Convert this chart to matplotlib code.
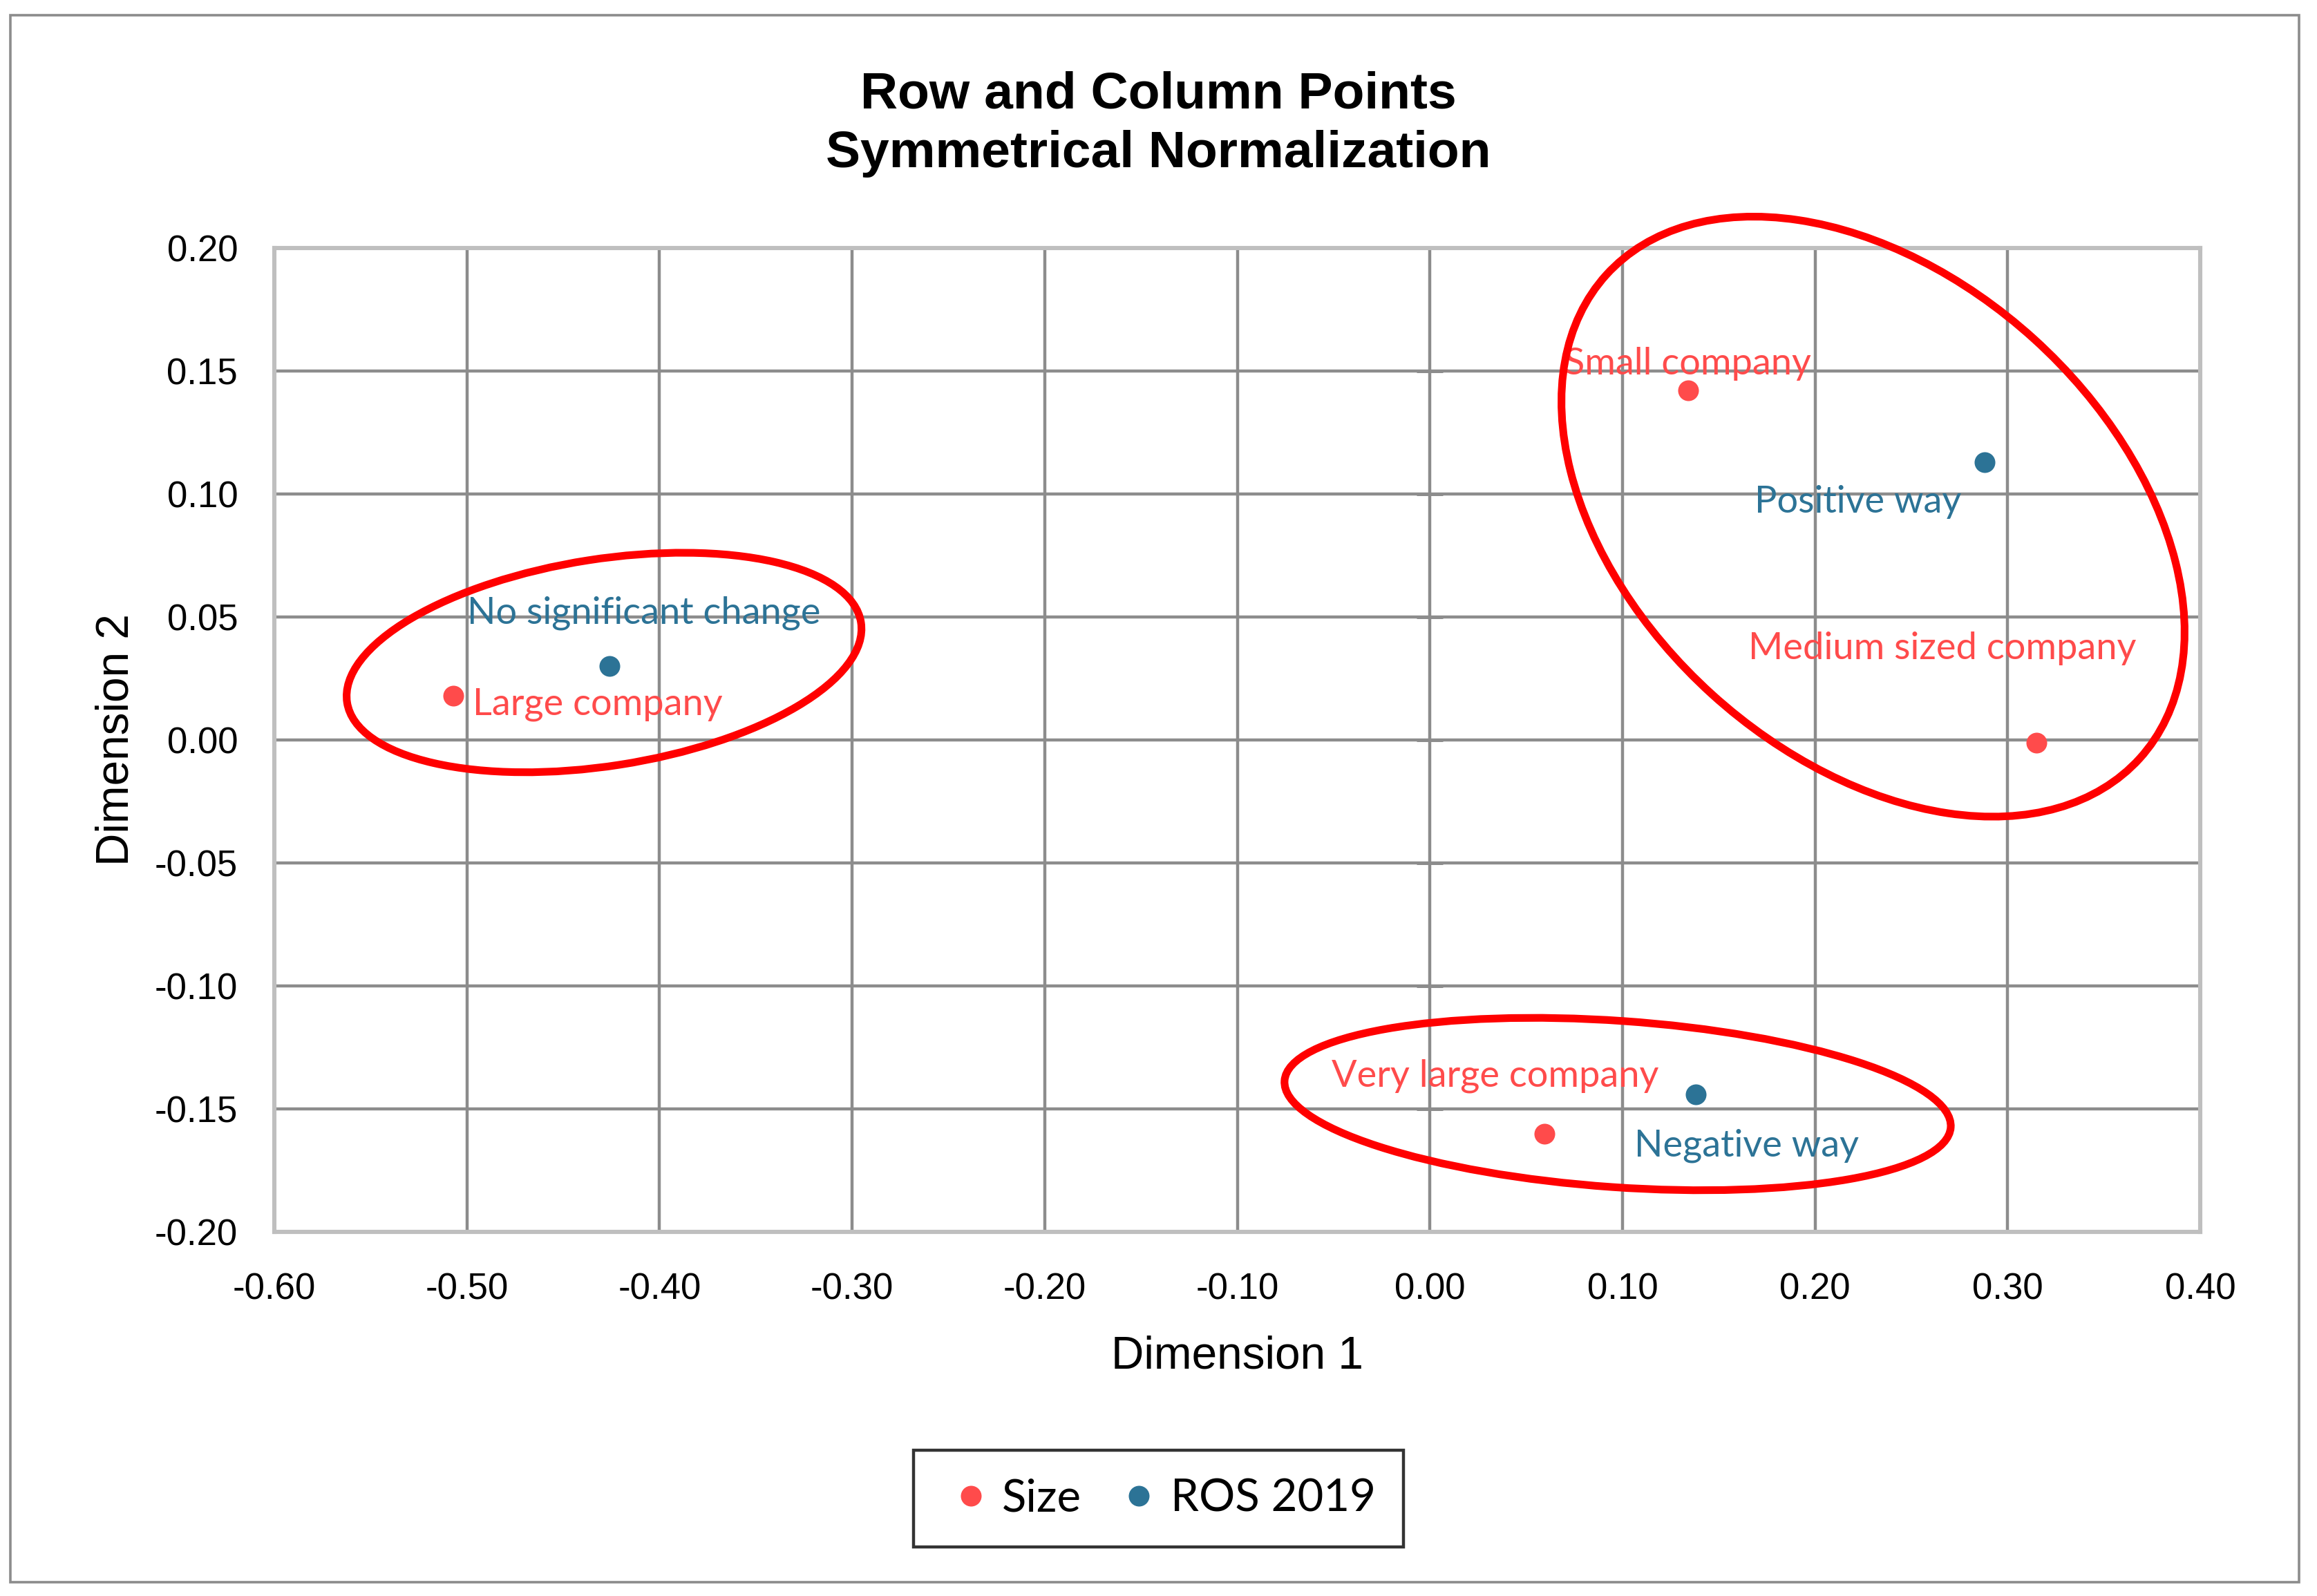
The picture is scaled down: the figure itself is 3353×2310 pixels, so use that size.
import matplotlib
matplotlib.use("Agg")
import matplotlib.pyplot as plt
from matplotlib.patches import Ellipse, Rectangle
from matplotlib.transforms import ScaledTranslation
from matplotlib.lines import Line2D

# ---- data ----
size_labels = ["Large company", "Small company", "Medium sized company", "Very large company"]
size_x = [-0.507, 0.134, 0.315, 0.0595]
size_y = [0.018, 0.142, -0.001, -0.160]

ros_labels = ["No significant change", "Positive way", "Negative way"]
ros_x = [-0.426, 0.288, 0.138]
ros_y = [0.030, 0.113, -0.144]

x_ticks = [-0.60, -0.50, -0.40, -0.30, -0.20, -0.10, 0.00, 0.10, 0.20, 0.30, 0.40]
y_ticks = [-0.20, -0.15, -0.10, -0.05, 0.00, 0.05, 0.10, 0.15, 0.20]

series_names = ["Size", "ROS 2019"]

# ---- styles ----
RED = "#FF4B4B"
BLUE = "#2C7396"
TICK_FONT = "Liberation Sans"
LABEL_FONT = "Lato"

# label offsets in points (dx, dy, ha)
size_offsets = [(10, -4.6, "left"), (0, 13.9, "center"), (-49, 49, "center"), (-25.8, 30, "center")]
ros_offsets = [(-74, 27.7, "left"), (-66, -20.8, "center"), (26.5, -27, "center")]

fig = plt.figure(figsize=(16.765, 11.55), dpi=200)
ax = fig.add_axes([0.1184, 0.2281, 0.8312, 0.6165])

ax.set_xlim(-0.6, 0.4)
ax.set_ylim(-0.2, 0.2)
ax.set_xticks(x_ticks, labels=[f"{v:.2f}" for v in x_ticks])
ax.set_yticks(y_ticks, labels=[f"{v:.2f}" for v in y_ticks])
for lab in ax.get_xticklabels() + ax.get_yticklabels():
    lab.set_fontfamily(TICK_FONT)
    lab.set_fontsize(19)
ax.tick_params(axis="x", length=0, pad=21)
ax.tick_params(axis="y", length=0, pad=19)
ax.grid(True, color="#8C8C8C", lw=1.6, zorder=0)
ax.set_axisbelow(True)
for sp in ax.spines.values():
    sp.set_color("#BFBFBF")
    sp.set_linewidth(2.2)

# vertical value axis crossing at x = 0 (cross tick marks only)
sec = ax.secondary_yaxis(0.6)
sec.set_yticks(y_ticks)
sec.tick_params(direction="inout", length=13.7, width=1.8, color="#8C8C8C",
                labelleft=False, labelright=False, left=True, right=False)
for sp in sec.spines.values():
    sp.set_visible(False)

ax.set_xlabel("Dimension 1", fontfamily=TICK_FONT, fontsize=23.7)
ax.set_ylabel("Dimension 2", fontfamily=TICK_FONT, fontsize=23.7)
ax.xaxis.set_label_coords(0.5, -0.127)
ax.yaxis.set_label_coords(-0.082, 0.5)
ax.xaxis.label.set_va("center")
ax.yaxis.label.set_va("center")

ax.scatter(size_x, size_y, s=117, color=RED, zorder=4, linewidths=0)
ax.scatter(ros_x, ros_y, s=117, color=BLUE, zorder=4, linewidths=0)

for lbl, x, y, (dx, dy, ha) in zip(size_labels, size_x, size_y, size_offsets):
    ax.annotate(lbl, (x, y), xytext=(dx, dy), textcoords="offset points",
                ha=ha, va="center", color=RED, fontfamily=LABEL_FONT, fontsize=19.5, zorder=5)
for lbl, x, y, (dx, dy, ha) in zip(ros_labels, ros_x, ros_y, ros_offsets):
    ax.annotate(lbl, (x, y), xytext=(dx, dy), textcoords="offset points",
                ha=ha, va="center", color=BLUE, fontfamily=LABEL_FONT, fontsize=19.5, zorder=5)

# hand-drawn highlight ellipses: centre (data), width/height (inches), angle
ellipses = [(-0.4288, 0.0315, 3.763, 1.497, 8.85),
            (0.2301, 0.0908, 5.21, 3.47, -42.2),
            (0.0975, -0.148, 4.832, 1.204, -4.0)]
for cx, cy, w, h, ang in ellipses:
    tr = fig.dpi_scale_trans + ScaledTranslation(cx, cy, ax.transData)
    e = Ellipse((0, 0), w, h, angle=ang, transform=tr, fill=False,
                ec="#FF0000", lw=4, zorder=3, clip_on=False)
    fig.add_artist(e)

# title
fig.text(0.5, 0.9405, "Row and Column Points", ha="center", va="center",
         fontfamily=TICK_FONT, fontweight="bold", fontsize=27)
fig.text(0.5, 0.9037, "Symmetrical Normalization", ha="center", va="center",
         fontfamily=TICK_FONT, fontweight="bold", fontsize=27)

# legend
handles = [Line2D([], [], ls="none", marker="o", ms=10.8, mfc=RED, mec="none"),
           Line2D([], [], ls="none", marker="o", ms=10.8, mfc=BLUE, mec="none")]
leg = fig.legend(handles, series_names, loc="center", bbox_to_anchor=(0.5, 0.061),
                 ncol=2, frameon=True, fancybox=False, prop={"family": LABEL_FONT, "size": 23.5},
                 handlelength=1.3, handletextpad=0.05, columnspacing=0.62, borderpad=0.62)
leg.get_frame().set_edgecolor("black")
leg.get_frame().set_linewidth(1.6)

# outer chart border
fig.patches.append(Rectangle((0.0045, 0.0087), 0.9877, 0.9818, transform=fig.transFigure,
                             fill=False, ec="#8C8C8C", lw=1.3))

fig.savefig("out.png", dpi=200)
